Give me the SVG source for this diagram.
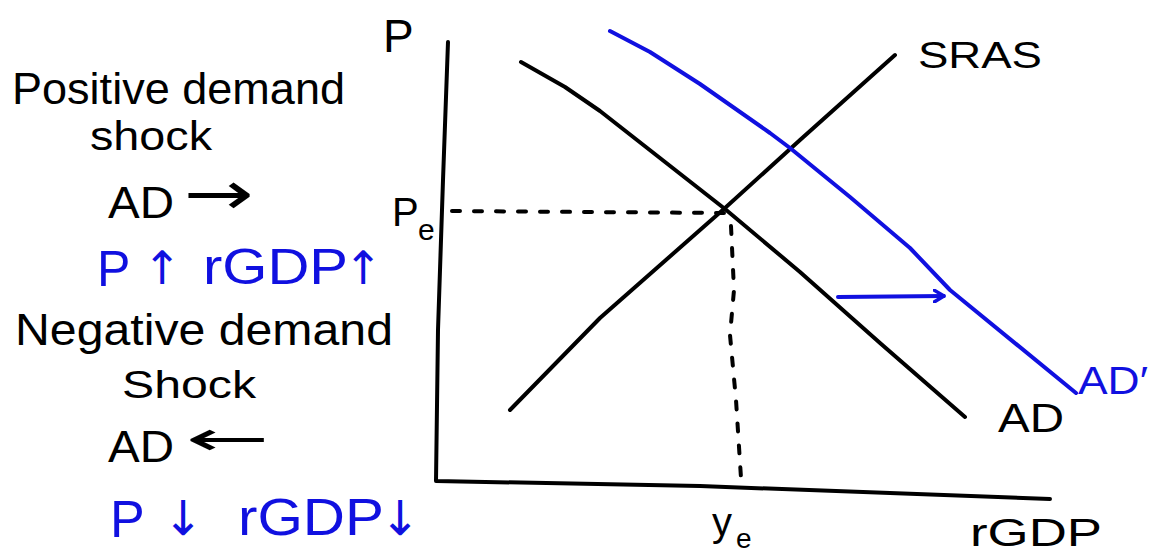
<svg xmlns="http://www.w3.org/2000/svg" width="1153" height="554" viewBox="0 0 1153 554">
<style>
.t{font-family:"Liberation Sans",Arial,sans-serif;fill:#000}
.ar{font-family:"DejaVu Sans",sans-serif}
.b{fill:#1010e0}
.ln{fill:none;stroke:#000;stroke-width:4;stroke-linecap:round;stroke-linejoin:round}
.bl{fill:none;stroke:#1010e0;stroke-width:4;stroke-linecap:round;stroke-linejoin:round}
.dash{fill:none;stroke:#000;stroke-width:4;stroke-linecap:round;stroke-dasharray:8 14}
</style>
<defs>
<marker id="ah" viewBox="0 0 12 14" refX="11" refY="7" markerWidth="12" markerHeight="14" markerUnits="userSpaceOnUse" orient="auto">
<path d="M1,1 L11,7 L1,13" fill="none" stroke="#1010e0" stroke-width="3.5" stroke-linecap="round" stroke-linejoin="round"/>
</marker>
</defs>
<rect width="1153" height="554" fill="#fff"/>
<g id="notes">
<text class="t" x="12" y="104" font-size="44" textLength="333" lengthAdjust="spacingAndGlyphs">Positive demand</text>
<text class="t" x="90" y="150" font-size="40" textLength="122" lengthAdjust="spacingAndGlyphs">shock</text>
<text class="t" x="108" y="218" font-size="44"><tspan textLength="66" lengthAdjust="spacingAndGlyphs">AD</tspan><tspan class="ar" x="184" y="214" font-size="60" textLength="70" lengthAdjust="spacingAndGlyphs">→</tspan></text>
<text class="t b" y="286" font-size="50"><tspan x="97">P</tspan><tspan class="ar" x="143" y="284" font-size="46">↑</tspan><tspan x="203" textLength="145" lengthAdjust="spacingAndGlyphs">rGDP</tspan><tspan class="ar" x="344" y="284" font-size="46">↑</tspan></text>
<text class="t" x="15" y="345" font-size="44" textLength="378" lengthAdjust="spacingAndGlyphs">Negative demand</text>
<text class="t" x="122" y="398" font-size="38" textLength="134" lengthAdjust="spacingAndGlyphs">Shock</text>
<text class="t" x="108" y="462" font-size="44"><tspan textLength="66" lengthAdjust="spacingAndGlyphs">AD</tspan><tspan class="ar" x="186" y="455" font-size="48" textLength="84" lengthAdjust="spacingAndGlyphs">←</tspan></text>
<text class="t b" y="537" font-size="52"><tspan x="110">P</tspan><tspan class="ar" x="163" y="535" font-size="48">↓</tspan><tspan x="238" textLength="146" lengthAdjust="spacingAndGlyphs">rGDP</tspan><tspan class="ar" x="380" y="535" font-size="48">↓</tspan></text>
</g>
<g id="axes">
<path class="ln" d="M448,42 L443,180 L438,330 L436,481 L700,486 L1050,499"/>
<text class="t" x="383" y="52" font-size="46">P</text>
<text class="t" x="392" y="226" font-size="40">P</text>
<text class="t" x="418" y="240" font-size="30">e</text>
<text class="t" x="712" y="536" font-size="40">y</text>
<text class="t" x="736" y="548" font-size="28">e</text>
<text class="t" x="970" y="546" font-size="38" textLength="132" lengthAdjust="spacingAndGlyphs">rGDP</text>
</g>
<g id="curves">
<path id="ad" class="ln" d="M521,62 L565,87 L600,111 L725,209 L800,272 L880,343 L965,417"/>
<path id="sras" class="ln" d="M510,410 L600,318 L725,208 L800,140 L895,55"/>
<path id="adprime" class="bl" d="M610,31 L650,52 L700,84 L770,133 L790,148 L850,197 L910,248 L950,290 L1076,393"/>
<text class="t" x="918" y="68" font-size="36" textLength="124" lengthAdjust="spacingAndGlyphs">SRAS</text>
<text class="t" x="998" y="432" font-size="40" textLength="66" lengthAdjust="spacingAndGlyphs">AD</text>
<text class="t b" x="1078" y="394" font-size="38" textLength="70" lengthAdjust="spacingAndGlyphs">AD′</text>
</g>
<g id="connectors">
<path class="dash" d="M452,211 L725,213"/>
<path class="dash" d="M731,226 L734,290 L730,335 L736,400 L741,478"/>
<path class="bl" d="M838,297 L944,296" marker-end="url(#ah)"/>
</g>
</svg>
